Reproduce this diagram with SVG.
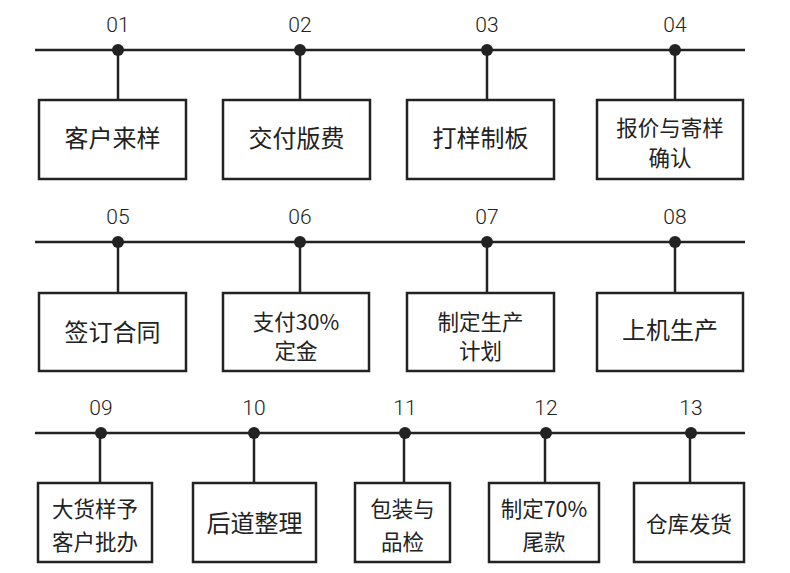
<svg xmlns="http://www.w3.org/2000/svg" width="790" height="573" viewBox="0 0 790 573">
<style>
.bg{fill:#fff}
.ln{stroke:#222;stroke-width:2.5;fill:none}
.dot{fill:#222}
.box{fill:#fff;stroke:#222;stroke-width:2.5}
.num{font-family:Roboto,"Noto Sans",sans-serif;font-size:21px;font-weight:300;fill:#222;text-anchor:middle}
.t1{font-family:"Noto Sans CJK SC","Noto Sans",sans-serif;font-size:24px;fill:#222;text-anchor:middle}
.t2{font-family:"Noto Sans CJK SC","Noto Sans",sans-serif;font-size:21.5px;fill:#222;text-anchor:middle}
</style>
<rect class="bg" x="0" y="0" width="790" height="573"/>
<g id="connectors">
<line class="ln" x1="35" y1="50" x2="745" y2="50"/>
<line class="ln" x1="35" y1="242" x2="745" y2="242"/>
<line class="ln" x1="35" y1="433" x2="745" y2="433"/>
<line class="ln" x1="118" y1="50" x2="118" y2="100"/>
<line class="ln" x1="300" y1="50" x2="300" y2="100"/>
<line class="ln" x1="487" y1="50" x2="487" y2="100"/>
<line class="ln" x1="675" y1="50" x2="675" y2="100"/>
<line class="ln" x1="118" y1="242" x2="118" y2="293"/>
<line class="ln" x1="300" y1="242" x2="300" y2="293"/>
<line class="ln" x1="487" y1="242" x2="487" y2="293"/>
<line class="ln" x1="675" y1="242" x2="675" y2="293"/>
<line class="ln" x1="100" y1="433" x2="100" y2="483"/>
<line class="ln" x1="254" y1="433" x2="254" y2="483"/>
<line class="ln" x1="404" y1="433" x2="404" y2="483"/>
<line class="ln" x1="545" y1="433" x2="545" y2="483"/>
<line class="ln" x1="690" y1="433" x2="690" y2="483"/>
<g class="dot">
<circle cx="118" cy="50" r="6"/><circle cx="300" cy="50" r="6"/><circle cx="487" cy="50" r="6"/><circle cx="675" cy="50" r="6"/>
<circle cx="118" cy="242" r="6"/><circle cx="300" cy="242" r="6"/><circle cx="487" cy="242" r="6"/><circle cx="675" cy="242" r="6"/>
<circle cx="101" cy="433" r="6"/><circle cx="254" cy="433" r="6"/><circle cx="405" cy="433" r="6"/><circle cx="546" cy="433" r="6"/><circle cx="691" cy="433" r="6"/>
</g>
</g>
<g id="n01"><text class="num" x="118" y="32">01</text><rect class="box" x="39" y="100" width="147" height="79"/><text class="t1" x="112.5" y="147">客户来样</text></g>
<g id="n02"><text class="num" x="300" y="32">02</text><rect class="box" x="223" y="100" width="147" height="79"/><text class="t1" x="296.5" y="147">交付版费</text></g>
<g id="n03"><text class="num" x="487" y="32">03</text><rect class="box" x="407" y="100" width="147" height="79"/><text class="t1" x="480.5" y="147">打样制板</text></g>
<g id="n04"><text class="num" x="675" y="32">04</text><rect class="box" x="597" y="100" width="146" height="79"/><text class="t2" x="670" y="136">报价与寄样</text><text class="t2" x="670" y="166">确认</text></g>
<g id="n05"><text class="num" x="118" y="224">05</text><rect class="box" x="39" y="293" width="147" height="78"/><text class="t1" x="112.5" y="341">签订合同</text></g>
<g id="n06"><text class="num" x="300" y="224">06</text><rect class="box" x="223" y="293" width="146" height="78"/><text class="t2" x="296" y="330">支付30%</text><text class="t2" x="296" y="359">定金</text></g>
<g id="n07"><text class="num" x="487" y="224">07</text><rect class="box" x="407" y="293" width="147" height="78"/><text class="t2" x="480.5" y="330">制定生产</text><text class="t2" x="480.5" y="359">计划</text></g>
<g id="n08"><text class="num" x="675" y="224">08</text><rect class="box" x="597" y="293" width="146" height="78"/><text class="t1" x="670" y="339">上机生产</text></g>
<g id="n09"><text class="num" x="101" y="415">09</text><rect class="box" x="38" y="483" width="114" height="79"/><text class="t2" x="95" y="517">大货样予</text><text class="t2" x="95" y="550">客户批办</text></g>
<g id="n10"><text class="num" x="254" y="415">10</text><rect class="box" x="193" y="483" width="123" height="79"/><text class="t1" x="254.5" y="532">后道整理</text></g>
<g id="n11"><text class="num" x="405" y="415">11</text><rect class="box" x="355" y="483" width="95" height="79"/><text class="t2" x="402.5" y="517">包装与</text><text class="t2" x="402.5" y="550">品检</text></g>
<g id="n12"><text class="num" x="546" y="415">12</text><rect class="box" x="489" y="483" width="110" height="79"/><text class="t2" x="544" y="517">制定70%</text><text class="t2" x="544" y="550">尾款</text></g>
<g id="n13"><text class="num" x="691" y="415">13</text><rect class="box" x="634" y="483" width="110" height="79"/><text class="t2" x="689" y="532">仓库发货</text></g>
</svg>
